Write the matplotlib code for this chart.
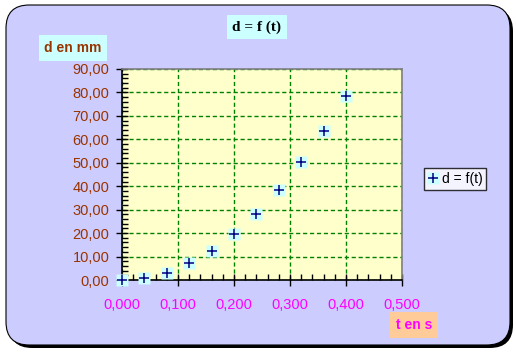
import matplotlib
matplotlib.use("Agg")
import matplotlib.pyplot as plt
import matplotlib.patches as mpatches
from matplotlib.ticker import FuncFormatter, MultipleLocator
from matplotlib.lines import Line2D

# values
t_values = [0.0, 0.04, 0.08, 0.12, 0.16, 0.20, 0.24, 0.28, 0.32, 0.36, 0.40]
d_values = [0.0, 0.8, 3.1, 7.1, 12.5, 19.6, 28.3, 38.5, 50.2, 63.6, 78.6]
series_label = "d = f(t)"
title_text = "d = f (t)"
ylabel_text = "d en mm"
xlabel_text = "t en s"

plt.rcParams["font.family"] = ["Liberation Sans", "DejaVu Sans"]
W, H = 516, 353
fig = plt.figure(figsize=(W / 100, H / 100), dpi=100)
fig.patch.set_facecolor("white")


def fx(px):
    return px / W


def fy(py):
    return 1 - py / H


# outer rounded frame with a shadow
shadow = mpatches.FancyBboxPatch((fx(9), fy(348)), fx(504), fy(8) - fy(348),
                                 boxstyle="round,pad=0,rounding_size=0.045",
                                 transform=fig.transFigure, facecolor="black",
                                 edgecolor="none", mutation_aspect=W / H, zorder=-3)
frame = mpatches.FancyBboxPatch((fx(6), fy(345)), fx(504), fy(5) - fy(345),
                                boxstyle="round,pad=0,rounding_size=0.045",
                                transform=fig.transFigure, facecolor="#CCCCFF",
                                edgecolor="black", linewidth=0.8, mutation_aspect=W / H,
                                zorder=-2)
fig.patches.extend([shadow, frame])

ax = fig.add_axes([fx(122), fy(280), fx(402) - fx(122), fy(69) - fy(280)])
ax.set_facecolor("#FFFFCC")
ax.set_xlim(0, 0.5)
ax.set_ylim(0, 90)

ax.xaxis.set_major_locator(MultipleLocator(0.1))
ax.xaxis.set_minor_locator(MultipleLocator(0.02))
ax.yaxis.set_major_locator(MultipleLocator(10))
ax.yaxis.set_minor_locator(MultipleLocator(2))
ax.xaxis.set_major_formatter(FuncFormatter(lambda v, p: f"{v:.3f}".replace(".", ",")))
ax.yaxis.set_major_formatter(FuncFormatter(lambda v, p: f"{v:.2f}".replace(".", ",")))

ax.grid(True, which="major", color="#008000", linestyle=(0, (3, 2)), linewidth=1)
ax.set_axisbelow(True)

ax.tick_params(which="major", direction="inout", length=8, width=1, colors="black")
ax.tick_params(which="minor", direction="in", length=4, width=1, colors="black")
ax.tick_params(axis="x", which="major", labelcolor="#FF00FF", labelsize=10.5, pad=9)
ax.tick_params(axis="y", which="major", labelcolor="#993300", labelsize=10.5, pad=5)

for side in ["top", "right"]:
    ax.spines[side].set_color("#808080")
    ax.spines[side].set_linewidth(1.2)
for side in ["left", "bottom"]:
    ax.spines[side].set_color("black")
    ax.spines[side].set_linewidth(1.2)

ax.plot(t_values, d_values, linestyle="none", marker="s", markersize=8.5,
        markerfacecolor="#CCFFFF", markeredgecolor="none", clip_on=False, zorder=3)
ax.plot(t_values, d_values, linestyle="none", marker="+", markersize=6.5,
        markeredgewidth=1.1, color="#000080", clip_on=False, zorder=4)

fig.text(fx(257), fy(27), title_text, ha="center", va="center", fontsize=11,
         fontweight="bold", family="Liberation Serif", color="black",
         bbox=dict(facecolor="#CCFFFF", edgecolor="none", pad=4))
fig.text(fx(73), fy(48), ylabel_text, ha="center", va="center", fontsize=10,
         fontweight="bold", color="#993300",
         bbox=dict(facecolor="#CCFFFF", edgecolor="none", pad=4))
fig.text(fx(414), fy(325), xlabel_text, ha="center", va="center", fontsize=10,
         fontweight="bold", color="#FF00FF",
         bbox=dict(facecolor="#FFCC99", edgecolor="none", pad=4))

handle = (Line2D([], [], linestyle="none", marker="s", markersize=8.5,
                 markerfacecolor="#CCFFFF", markeredgecolor="none"),
          Line2D([], [], linestyle="none", marker="+", markersize=6.5,
                 markeredgewidth=1.1, color="#000080"))
leg = fig.legend([handle], [series_label], loc="center", bbox_to_anchor=(fx(455), fy(179)),
                 frameon=True, fancybox=False, handlelength=0.8, handletextpad=0.2,
                 borderpad=0.3, fontsize=10, borderaxespad=0)
leg.get_frame().set_edgecolor("black")
leg.get_frame().set_linewidth(1)
leg.get_frame().set_facecolor("white")

fig.savefig("out.png", dpi=100)
